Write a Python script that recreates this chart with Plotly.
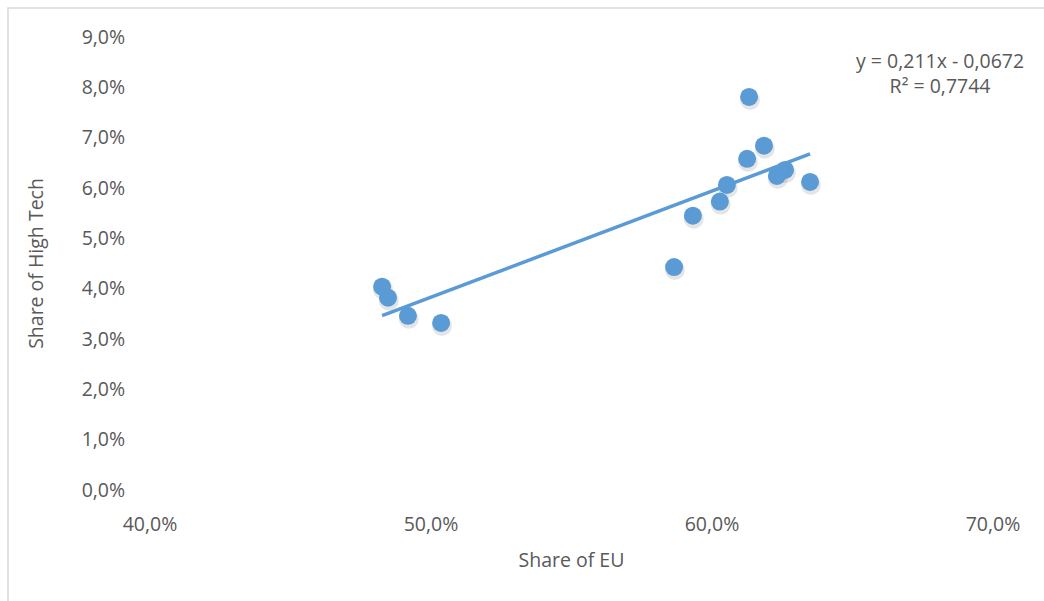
import plotly.graph_objects as go

share_eu = [0.4826, 0.4847, 0.4918, 0.5036, 0.5865, 0.5932, 0.6028, 0.6053,
            0.6125, 0.6132, 0.6185, 0.6231, 0.6260, 0.6349]
share_ht = [0.0404, 0.0382, 0.0346, 0.0332, 0.0443, 0.0545, 0.0573, 0.0606,
            0.0658, 0.0781, 0.0684, 0.0624, 0.0636, 0.0612]
slope = 0.211
intercept = -0.0672
eq_text = "y = 0,211x - 0,0672<br>R² = 0,7744"
x_ticks = [0.4, 0.5, 0.6, 0.7]
x_tick_labels = ["40,0%", "50,0%", "60,0%", "70,0%"]
y_ticks = [i / 100 for i in range(10)]
y_tick_labels = [f"{i},0%" for i in range(10)]

blue = "#5B9BD5"
font = "Open Sans, sans-serif"
fs = 19.5

fig = go.Figure()
# soft shadow under markers
fig.add_trace(go.Scatter(
    x=[v + 0.0003 for v in share_eu], y=[v - 0.0006 for v in share_ht],
    mode="markers", marker=dict(size=20, color="rgba(0,0,0,0.10)", line=dict(width=0)),
    hoverinfo="skip", showlegend=False))
fig.add_trace(go.Scatter(
    x=share_eu, y=share_ht, mode="markers",
    marker=dict(size=18, color=blue, line=dict(width=0)), showlegend=False))
xmin, xmax = min(share_eu), max(share_eu)
fig.add_trace(go.Scatter(
    x=[xmin, xmax], y=[slope * xmin + intercept, slope * xmax + intercept],
    mode="lines", line=dict(color=blue, width=3.5), showlegend=False))

fig.update_layout(
    width=1044, height=601,
    margin=dict(l=150, r=51, t=37, b=111),
    paper_bgcolor="white", plot_bgcolor="white",
    font=dict(family=font, size=fs, color="#595959"),
    xaxis=dict(range=[0.4, 0.7], tickvals=x_ticks, ticktext=x_tick_labels,
               showgrid=False, zeroline=False, showline=False,
               ticks="outside", ticklen=17, tickcolor="rgba(0,0,0,0)",
               title=dict(text="Share of EU", font=dict(size=fs, color="#595959"), standoff=16)),
    yaxis=dict(range=[0, 0.09], tickvals=y_ticks, ticktext=y_tick_labels,
               showgrid=False, zeroline=False, showline=False,
               ticks="outside", ticklen=20, tickcolor="rgba(0,0,0,0)",
               title=dict(text="Share of High Tech", font=dict(size=fs, color="#595959"), standoff=32)),
    shapes=[dict(type="rect", xref="paper", yref="paper",
                 x0=(8 - 150) / 843, x1=(1060 - 150) / 843,
                 y0=(601 - 111 - 620) / 453, y1=(490 - 8) / 453,
                 line=dict(color="#D9D9D9", width=1.5), layer="below")],
    annotations=[dict(text=eq_text, xref="paper", yref="paper",
                      x=(940 - 150) / 843, y=(490 - 73) / 453,
                      xanchor="center", yanchor="middle", showarrow=False, align="center",
                      font=dict(size=fs, color="#595959"))],
)

fig.write_html("out.html")
